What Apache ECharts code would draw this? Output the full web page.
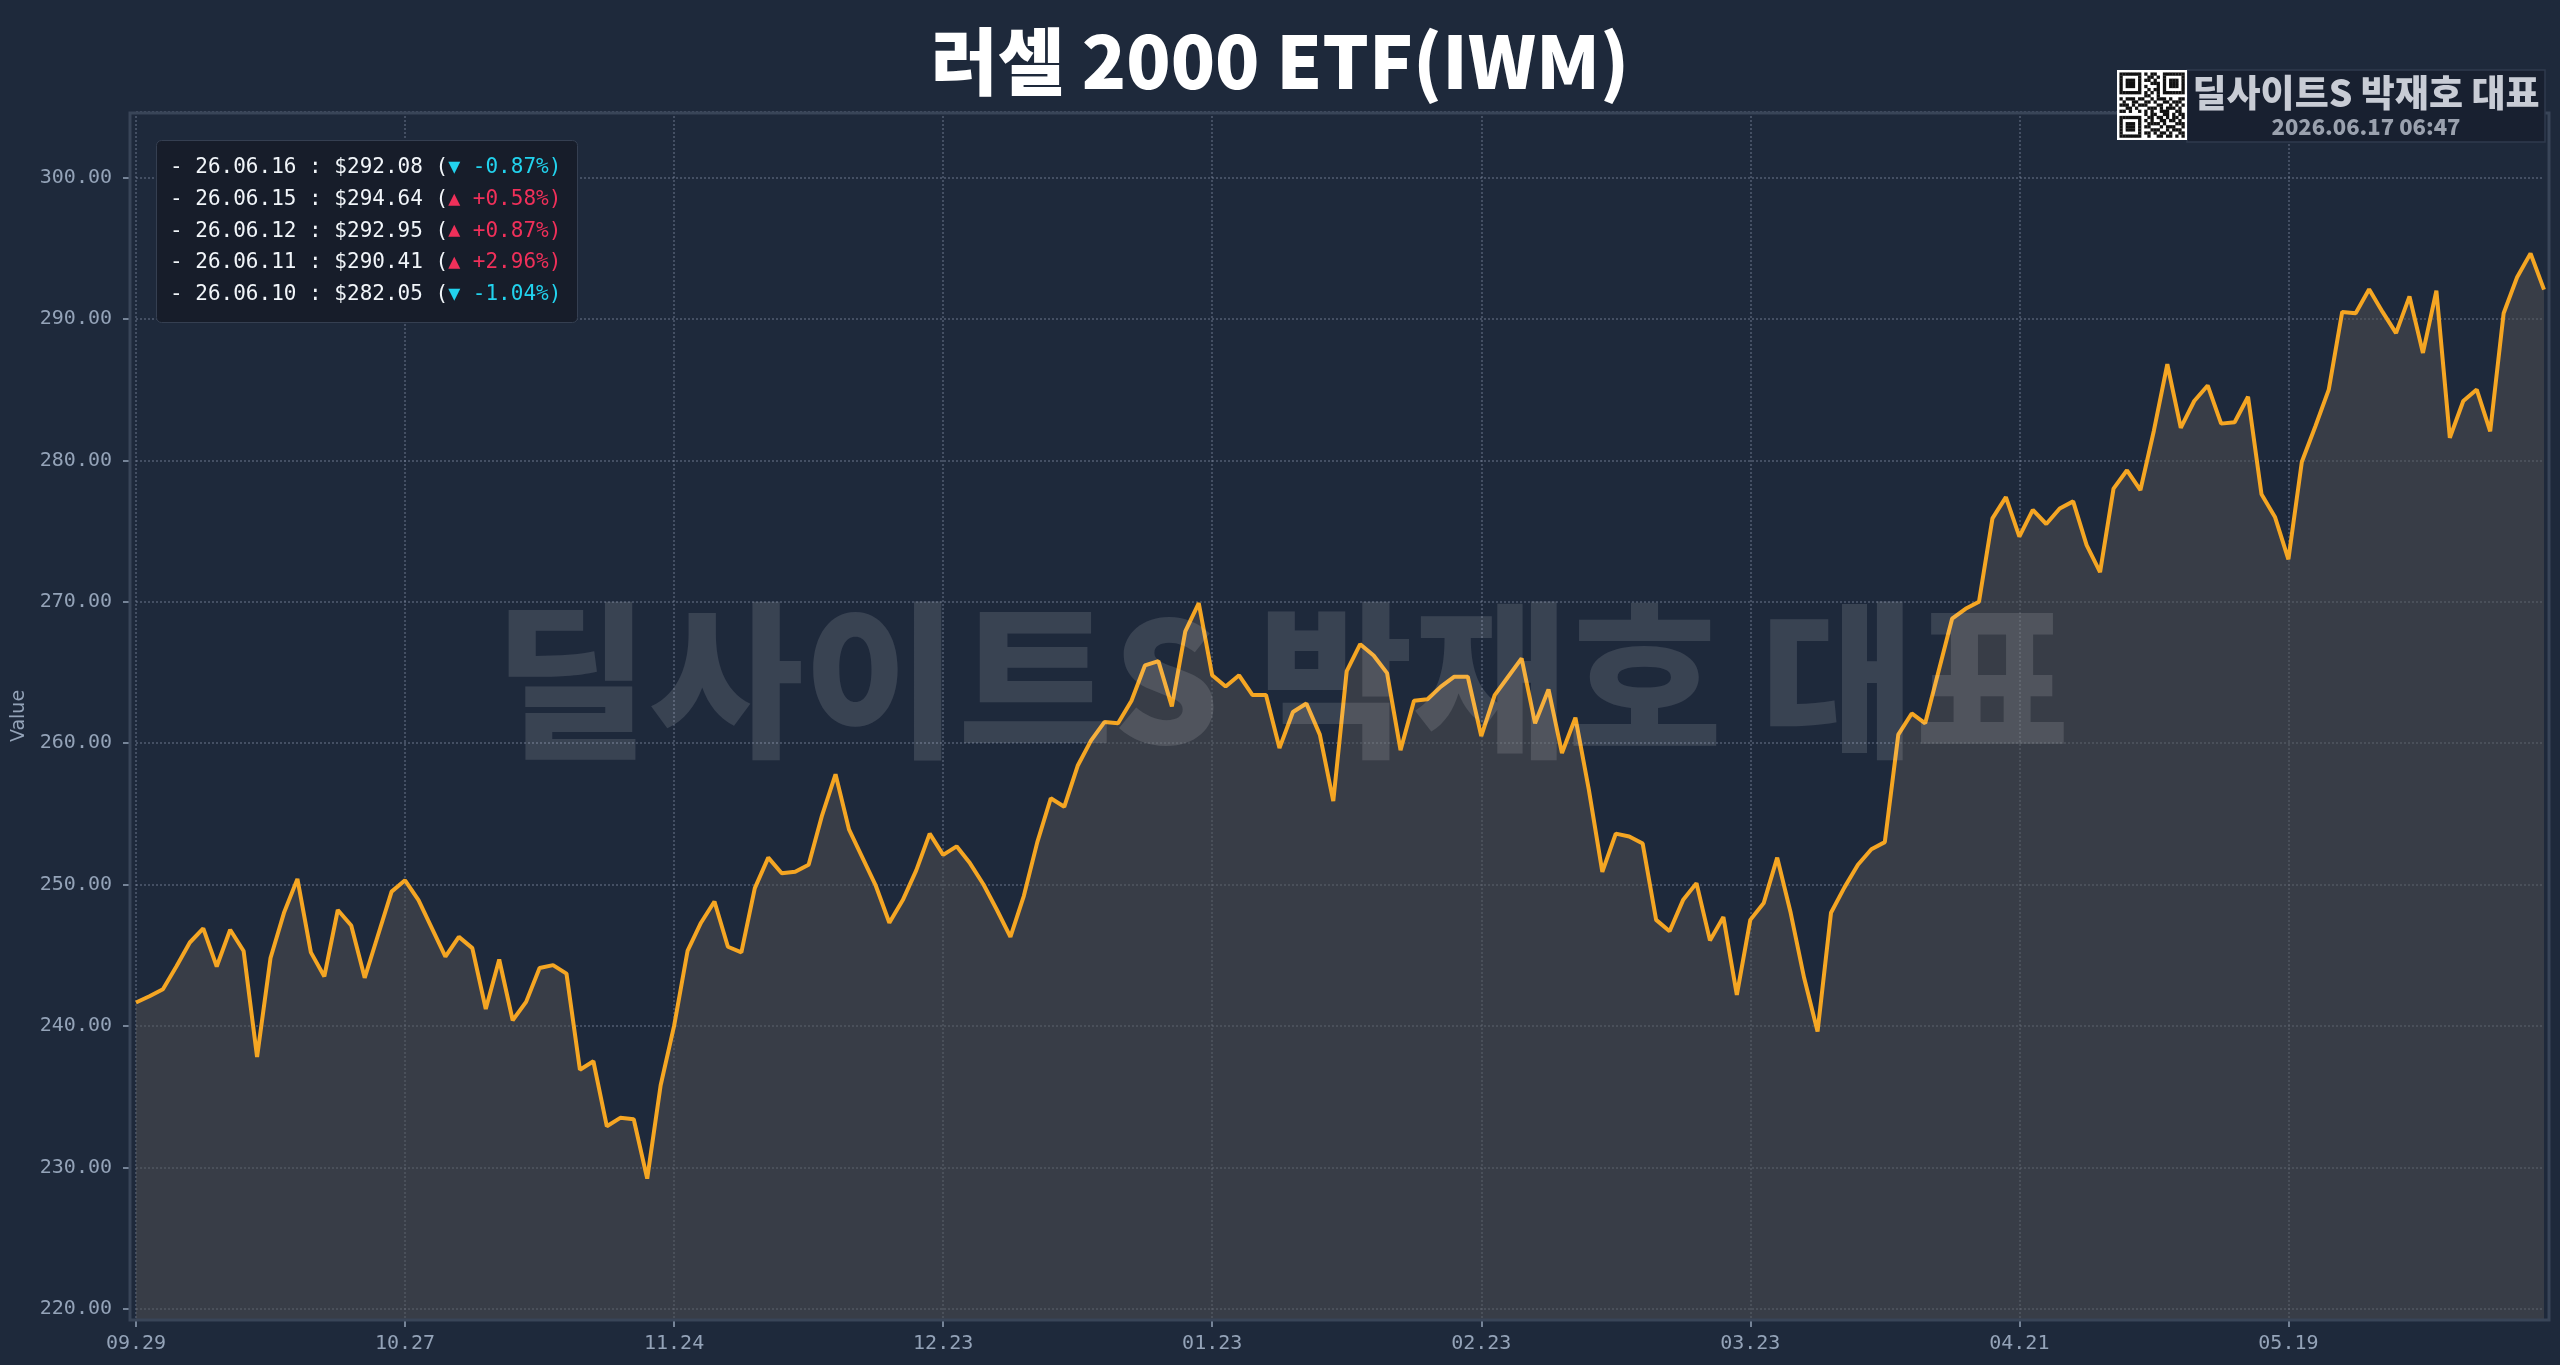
<!DOCTYPE html>
<html><head><meta charset="utf-8">
<script src="https://cdn.jsdelivr.net/npm/echarts@6/dist/echarts.min.js"></script>
<style>html,body{margin:0;padding:0;background:#1e293b;}#c{width:2560px;height:1365px;}</style>
</head><body><div id="c"></div>
<script>
const chartTitle = '러셀 2000 ETF(IWM)';
const watermarkText = '딜사이트S 박재호 대표';
const badgeStamp = '2026.06.17 06:47';
const yAxisName = 'Value';

const dates = [
'25.09.29','25.09.30',
'25.10.01','25.10.02','25.10.03','25.10.06','25.10.07','25.10.08','25.10.09','25.10.10','25.10.13','25.10.14','25.10.15','25.10.16','25.10.17','25.10.20','25.10.21','25.10.22','25.10.23','25.10.24','25.10.27','25.10.28','25.10.29','25.10.30','25.10.31',
'25.11.03','25.11.04','25.11.05','25.11.06','25.11.07','25.11.10','25.11.11','25.11.12','25.11.13','25.11.14','25.11.17','25.11.18','25.11.19','25.11.20','25.11.21','25.11.24','25.11.25','25.11.26','25.11.28',
'25.12.01','25.12.02','25.12.03','25.12.04','25.12.05','25.12.08','25.12.09','25.12.10','25.12.11','25.12.12','25.12.15','25.12.16','25.12.17','25.12.18','25.12.19','25.12.22','25.12.23','25.12.24','25.12.26','25.12.29','25.12.30','25.12.31',
'26.01.02','26.01.05','26.01.06','26.01.07','26.01.08','26.01.09','26.01.12','26.01.13','26.01.14','26.01.15','26.01.16','26.01.20','26.01.21','26.01.22','26.01.23','26.01.26','26.01.27','26.01.28','26.01.29','26.01.30',
'26.02.02','26.02.03','26.02.04','26.02.05','26.02.06','26.02.09','26.02.10','26.02.11','26.02.12','26.02.13','26.02.17','26.02.18','26.02.19','26.02.20','26.02.23','26.02.24','26.02.25','26.02.26','26.02.27',
'26.03.02','26.03.03','26.03.04','26.03.05','26.03.06','26.03.09','26.03.10','26.03.11','26.03.12','26.03.13','26.03.16','26.03.17','26.03.18','26.03.19','26.03.20','26.03.23','26.03.24','26.03.25','26.03.26','26.03.27','26.03.30','26.03.31',
'26.04.01','26.04.02','26.04.06','26.04.07','26.04.08','26.04.09','26.04.10','26.04.13','26.04.14','26.04.15','26.04.16','26.04.17','26.04.20','26.04.21','26.04.22','26.04.23','26.04.24','26.04.27','26.04.28','26.04.29','26.04.30',
'26.05.01','26.05.04','26.05.05','26.05.06','26.05.07','26.05.08','26.05.11','26.05.12','26.05.13','26.05.14','26.05.15','26.05.18','26.05.19','26.05.20','26.05.21','26.05.22','26.05.26','26.05.27','26.05.28','26.05.29',
'26.06.01','26.06.02','26.06.03','26.06.04','26.06.05','26.06.08','26.06.09','26.06.10','26.06.11','26.06.12','26.06.15','26.06.16'
];

const closes = [
241.66,242.1,242.6,244.2,245.9,246.9,244.2,246.8,245.3,237.8,
244.8,248.0,250.4,245.2,243.5,248.2,247.1,243.4,246.45,249.5,
250.3,248.9,246.9,244.9,246.3,245.5,241.2,244.7,240.4,241.7,
244.1,244.3,243.7,236.9,237.5,232.9,233.5,233.4,229.2,235.8,
240.0,245.3,247.3,248.8,245.6,245.2,249.75,251.9,250.8,250.9,
251.4,254.9,257.8,253.9,251.9,249.9,247.3,248.9,251.0,253.6,
252.1,252.7,251.5,250.0,248.2,246.3,249.2,253.0,256.1,255.5,
258.4,260.2,261.5,261.4,263.0,265.5,265.8,262.6,267.9,269.9,
264.8,264.0,264.8,263.4,263.4,259.65,262.2,262.8,260.6,255.9,
265.1,267.0,266.2,264.95,259.5,263.0,263.1,264.0,264.7,264.7,
260.5,263.4,264.7,266.0,261.4,263.8,259.3,261.8,256.7,250.9,
253.6,253.4,252.9,247.5,246.7,248.9,250.1,246.05,247.7,242.2,
247.5,248.7,251.9,248.0,243.4,239.6,248.0,249.8,251.4,252.5,
253.0,260.6,262.1,261.4,265.1,268.8,269.5,270.0,275.9,277.4,
274.6,276.5,275.5,276.6,277.1,274.0,272.1,278.0,279.3,277.9,
282.1,286.8,282.3,284.2,285.3,282.6,282.7,284.5,277.6,276.0,
273.0,279.9,282.4,285.0,290.5,290.4,292.1,290.5,289.0,291.6,
287.6,292.0,281.6,284.2,285.01,282.05,290.41,292.95,294.64,292.08
];

const qrRows = [
'111111101011001111111',
'100000100110101000001',
'101110101101001011101',
'101110100011101011101',
'101110101000101011101',
'100000100101101000001',
'111111101010101111111',
'000000001100100000000',
'101110110010111010011',
'010011001101001101110',
'111010111000110010101',
'001101000111010111010',
'110100101010011100110',
'000000001011001101011',
'111111100110110101101',
'100000101010011011010',
'101110100111101000111',
'101110101100010111001',
'101110100011100101110',
'100000101101011010011',
'111111100100110110101'
];

// legend lines: last five sessions, newest first
const legendLines = [];
for (let k = closes.length - 1; k >= closes.length - 5; k--) {
  const v = closes[k], p = closes[k - 1];
  const pct = (v - p) / p * 100;
  const up = pct >= 0;
  const s = (up ? '+' : '-') + Math.abs(pct).toFixed(2) + '%)';
  legendLines.push('- ' + dates[k] + ' : $' + v.toFixed(2) + ' (' +
    (up ? '{upT|▲}{up| ' + s + '}' : '{dnT|▼}{dn| ' + s + '}'));
}

const graphics = [
  { type: 'rect', z: 10, silent: true,
    shape: { x: 130, y: 113, width: 2419, height: 1207 },
    style: { fill: 'none', stroke: '#394558', lineWidth: 3 } },
  { type: 'text', z: 100, silent: true, x: 1282, y: 680,
    style: { text: watermarkText, fill: 'rgba(255,255,255,0.12)',
      font: '900 168px "Noto Sans CJK KR"', align: 'center', verticalAlign: 'middle',
      textAlign: 'center', textVerticalAlign: 'middle' } },
  { type: 'rect', z: 110, silent: true,
    shape: { x: 2187, y: 70, width: 358, height: 72 },
    style: { fill: '#182030', stroke: '#2f3a4d', lineWidth: 1.5 } },
  { type: 'rect', z: 110, silent: true,
    shape: { x: 2117, y: 70, width: 70, height: 70 },
    style: { fill: '#ffffff' } },
  { type: 'text', z: 111, silent: true, x: 2366, y: 93,
    style: { text: watermarkText, fill: '#c8ccd5', font: '900 37px "Noto Sans CJK KR"',
      align: 'center', verticalAlign: 'middle', textAlign: 'center', textVerticalAlign: 'middle' } },
  { type: 'text', z: 111, silent: true, x: 2366, y: 127,
    style: { text: badgeStamp, fill: '#9aa1ae', font: '900 22px "Noto Sans CJK KR"',
      align: 'center', verticalAlign: 'middle', textAlign: 'center', textVerticalAlign: 'middle' } }
];
const mod = 3.1, qx = 2117 + (70 - 21 * mod) / 2, qy = 70 + (70 - 21 * mod) / 2;
qrRows.forEach((row, r) => {
  for (let c = 0; c < row.length; c++) {
    if (row[c] === '1') {
      graphics.push({ type: 'rect', z: 112, silent: true,
        shape: { x: qx + c * mod, y: qy + r * mod, width: mod + 0.2, height: mod + 0.2 },
        style: { fill: '#111111' } });
    }
  }
});

const labelColor = '#94a3b8';
const gridLine = { color: 'rgba(148,163,184,0.32)', type: 'dotted', width: 2 };
const mono = 'DejaVu Sans Mono';

const option = {
  backgroundColor: '#1e293b',
  animation: false,
  title: [
    { text: chartTitle, left: 'center', top: 20,
      textStyle: { color: '#ffffff', fontSize: 73, fontWeight: 900, fontFamily: 'Noto Sans CJK KR' } },
    { text: legendLines.join('\n'), left: 156, top: 140,
      padding: [12, 16, 12, 14], backgroundColor: '#171d2a', borderColor: '#353f51', borderWidth: 1, borderRadius: 5,
      textStyle: { color: '#f1f5f9', fontSize: 21, fontWeight: 'normal', fontFamily: mono, lineHeight: 31.7,
        rich: {
          up: { color: '#f0305a', fontSize: 21, fontFamily: mono, lineHeight: 31.7 },
          dn: { color: '#22d3ee', fontSize: 21, fontFamily: mono, lineHeight: 31.7 },
          upT: { color: '#f0305a', fontSize: 20, fontFamily: mono, lineHeight: 31.7 },
          dnT: { color: '#22d3ee', fontSize: 20, fontFamily: mono, lineHeight: 31.7 }
        } } }
  ],
  grid: { left: 136, right: 16, top: 112, bottom: 45 },
  xAxis: {
    type: 'category', data: dates, boundaryGap: false,
    axisLine: { show: false },
    axisTick: { show: true, interval: 19, length: 7, lineStyle: { color: labelColor, width: 1.5 } },
    axisLabel: { interval: 19, formatter: v => v.slice(3), color: labelColor, fontFamily: mono, fontSize: 20, margin: 14 },
    splitLine: { show: true, interval: 19, lineStyle: gridLine }
  },
  yAxis: {
    type: 'value', min: e => e.min - 10, max: e => e.max + 10, splitNumber: 8, offset: 7,
    name: yAxisName, nameLocation: 'middle', nameGap: 100,
    nameTextStyle: { color: labelColor, fontSize: 19, fontFamily: 'DejaVu Sans' },
    axisLine: { show: false },
    axisTick: { show: true, length: 6, lineStyle: { color: labelColor, width: 1.5 } },
    axisLabel: { showMinLabel: false, showMaxLabel: false, formatter: v => v.toFixed(2),
      color: labelColor, fontFamily: mono, fontSize: 20, margin: 17 },
    splitLine: { show: true, lineStyle: gridLine }
  },
  series: [{
    type: 'line', data: closes, symbol: 'none', showSymbol: false, z: 3,
    lineStyle: { color: '#f5a623', width: 4 }, itemStyle: { color: '#f5a623' },
    areaStyle: { color: 'rgba(82,82,84,0.74)', origin: 'start' }
  }],
  graphic: graphics
};

const chart = echarts.init(document.getElementById('c'), null, { renderer: 'canvas' });
chart.setOption(option);
</script>
</body></html>
